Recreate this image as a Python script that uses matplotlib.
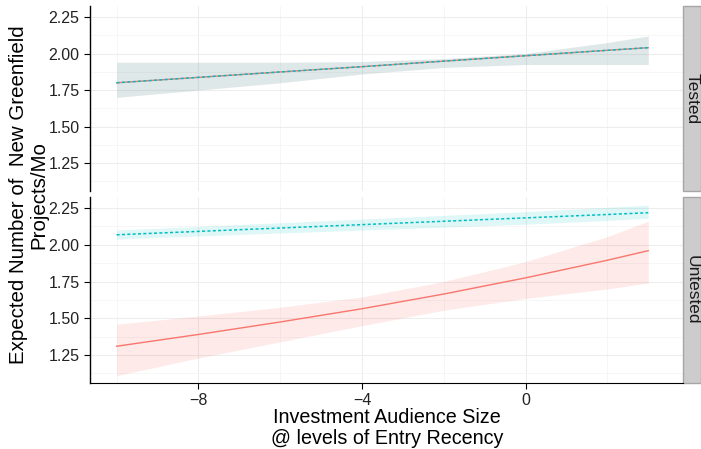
import matplotlib
matplotlib.use("Agg")
import matplotlib.pyplot as plt
from matplotlib.patches import Rectangle

plt.rcParams['font.family'] = ['Liberation Sans', 'DejaVu Sans']

# Predicted values along audience size, per entry-recency level
x = [-10, -8, -6, -4, -2, 0, 2, 3]

# Tested facet
tested_red_fit = [1.80, 1.837, 1.874, 1.91, 1.948, 1.985, 2.022, 2.04]
tested_cyan_fit = [1.80, 1.837, 1.874, 1.91, 1.948, 1.985, 2.022, 2.04]
tested_hi = [1.94, 1.94, 1.94, 1.945, 1.965, 2.00, 2.075, 2.12]
tested_lo = [1.70, 1.75, 1.80, 1.86, 1.905, 1.925, 1.925, 1.925]

# Untested facet
untested_red_fit = [1.31, 1.39, 1.475, 1.565, 1.665, 1.775, 1.895, 1.96]
untested_red_hi = [1.46, 1.515, 1.575, 1.645, 1.75, 1.885, 2.055, 2.16]
untested_red_lo = [1.11, 1.23, 1.34, 1.45, 1.555, 1.635, 1.70, 1.74]
untested_cyan_fit = [2.068, 2.091, 2.114, 2.137, 2.16, 2.183, 2.206, 2.218]
untested_cyan_hi = [2.10, 2.125, 2.15, 2.175, 2.20, 2.225, 2.255, 2.27]
untested_cyan_lo = [2.04, 2.06, 2.08, 2.10, 2.12, 2.14, 2.165, 2.18]

facets = ["Tested", "Untested"]
yticks = [1.25, 1.50, 1.75, 2.00, 2.25]
xticks = [-8, -4, 0]
xticklabels = ["\u22128", "\u22124", "0"]

RED = "#F8766D"
CYAN = "#00BFC4"

fig = plt.figure(figsize=(7.01, 4.49), dpi=100)
left, right = 90 / 701, 683 / 701
panels = [(6, 191), (197, 383)]
axes = []
for top, bot in panels:
    ax = fig.add_axes([left, 1 - bot / 449, right - left, (bot - top) / 449])
    axes.append(ax)

for i, ax in enumerate(axes):
    ax.set_xlim(-10.65, 3.85)
    ax.set_ylim(1.06, 2.325)
    ax.set_yticks(yticks)
    ax.set_yticklabels([f"{v:.2f}" for v in yticks], fontsize=11.5, color="#222222")
    ax.set_xticks(xticks)
    ax.set_xticks([-10, -6, -2, 2], minor=True)
    ax.set_yticks([1.125, 1.375, 1.625, 1.875, 2.125], minor=True)
    ax.grid(True, which="major", color="#ededed", lw=0.8)
    ax.grid(True, which="minor", color="#f5f5f5", lw=0.6)
    ax.set_axisbelow(True)
    for s in ["top", "right"]:
        ax.spines[s].set_visible(False)
    ax.spines["left"].set_color("black")
    ax.spines["left"].set_linewidth(1.0)
    ax.tick_params(axis="both", which="minor", length=0)
    ax.tick_params(axis="y", which="major", length=4, width=0.8, colors="black",
                   labelcolor="#222222")
    if i == 0:
        ax.spines["bottom"].set_visible(False)
        ax.tick_params(axis="x", which="major", length=0, labelbottom=False)
    else:
        ax.spines["bottom"].set_color("black")
        ax.tick_params(axis="x", which="major", length=4, width=0.8, labelsize=11.5,
                       colors="black", labelcolor="#222222")
        ax.set_xticklabels(xticklabels)

    # facet strip on the right
    strip = Rectangle((0.5 / 593, 0.0), 17.5 / 593, 1.0, transform=ax.transAxes,
                      facecolor="#cccccc", edgecolor="#a6a6a6", lw=1.0, clip_on=False)
    strip.set_x(1.0)
    ax.add_patch(strip)
    ax.text(1.0 + 9.5 / 593, 0.5, facets[i], transform=ax.transAxes, rotation=-90,
            ha="center", va="center", fontsize=12.5, color="#1a1a1a")

# Tested facet
ax = axes[0]
ax.fill_between(x, tested_lo, tested_hi, color=RED, alpha=0.12, lw=0)
ax.fill_between(x, tested_lo, tested_hi, color=CYAN, alpha=0.12, lw=0)
ax.plot(x, tested_red_fit, color=RED, lw=1.0)
ax.plot(x, tested_cyan_fit, color=CYAN, lw=1.1, linestyle=(0, (2, 1.5)))

# Untested facet
ax = axes[1]
ax.fill_between(x, untested_red_lo, untested_red_hi, color=RED, alpha=0.15, lw=0)
ax.fill_between(x, untested_cyan_lo, untested_cyan_hi, color=CYAN, alpha=0.12, lw=0)
ax.plot(x, untested_red_fit, color=RED, lw=1.0)
ax.plot(x, untested_cyan_fit, color=CYAN, lw=1.1, linestyle=(0, (2, 1.5)))

fig.text(28.5 / 701, 1 - 195 / 449, "Expected Number of  New Greenfield\nProjects/Mo",
         rotation=90, ha="center", va="center", fontsize=14.8, color="black",
         linespacing=1.12)
fig.text(387 / 701, 1 - 428 / 449, "Investment Audience Size\n@ levels of Entry Recency",
         ha="center", va="center", fontsize=14.2, color="black", linespacing=1.12)

fig.savefig("out.png", dpi=100, facecolor="white")
